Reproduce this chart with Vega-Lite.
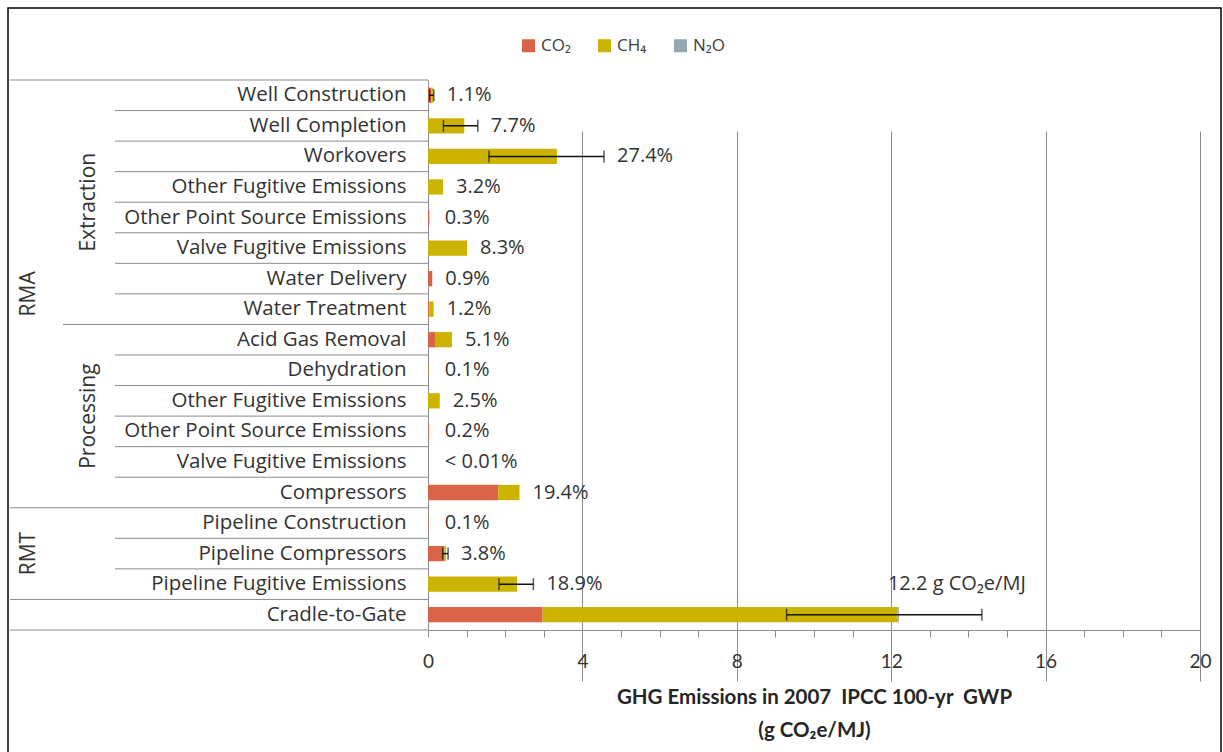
{
  "$schema": "https://vega.github.io/schema/vega-lite/v6.json",
  "width": 1213,
  "height": 745,
  "autosize": {"type": "none"},
  "padding": {"left": 8, "top": 8, "right": 2, "bottom": 0},
  "background": "white",
  "config": {
    "font": "Open Sans",
    "view": {"stroke": "#000000", "strokeWidth": 1.5},
    "text": {"font": "Open Sans", "fontSize": 20, "color": "#333333"}
  },
  "datasets": {
    "emissions": [
      {"key": "RMA|Extraction|Well Construction", "gas": "CO₂", "value": 0.09},
      {"key": "RMA|Extraction|Well Construction", "gas": "CH₄", "value": 0.044},
      {"key": "RMA|Extraction|Well Completion", "gas": "CH₄", "value": 0.94},
      {"key": "RMA|Extraction|Workovers", "gas": "CH₄", "value": 3.34},
      {"key": "RMA|Extraction|Other Fugitive Emissions", "gas": "CH₄", "value": 0.39},
      {"key": "RMA|Extraction|Other Point Source Emissions", "gas": "CO₂", "value": 0.03},
      {"key": "RMA|Extraction|Other Point Source Emissions", "gas": "CH₄", "value": 0.007},
      {"key": "RMA|Extraction|Valve Fugitive Emissions", "gas": "CH₄", "value": 1.01},
      {"key": "RMA|Extraction|Water Delivery", "gas": "CO₂", "value": 0.11},
      {"key": "RMA|Extraction|Water Treatment", "gas": "CO₂", "value": 0.04},
      {"key": "RMA|Extraction|Water Treatment", "gas": "CH₄", "value": 0.106},
      {"key": "RMA|Processing|Acid Gas Removal", "gas": "CO₂", "value": 0.2},
      {"key": "RMA|Processing|Acid Gas Removal", "gas": "CH₄", "value": 0.42},
      {"key": "RMA|Processing|Dehydration", "gas": "CO₂", "value": 0.007},
      {"key": "RMA|Processing|Dehydration", "gas": "CH₄", "value": 0.005},
      {"key": "RMA|Processing|Other Fugitive Emissions", "gas": "CH₄", "value": 0.305},
      {"key": "RMA|Processing|Other Point Source Emissions", "gas": "CO₂", "value": 0.024},
      {"key": "RMA|Processing|Valve Fugitive Emissions", "gas": "CH₄", "value": 0.0008},
      {"key": "RMA|Processing|Compressors", "gas": "CO₂", "value": 1.82},
      {"key": "RMA|Processing|Compressors", "gas": "CH₄", "value": 0.55},
      {"key": "RMT||Pipeline Construction", "gas": "CO₂", "value": 0.012},
      {"key": "RMT||Pipeline Compressors", "gas": "CO₂", "value": 0.42},
      {"key": "RMT||Pipeline Compressors", "gas": "CH₄", "value": 0.044},
      {"key": "RMT||Pipeline Fugitive Emissions", "gas": "CH₄", "value": 2.31},
      {"key": "||Cradle-to-Gate", "gas": "CO₂", "value": 2.97},
      {"key": "||Cradle-to-Gate", "gas": "CH₄", "value": 9.2},
      {"key": "||Cradle-to-Gate", "gas": "N₂O", "value": 0.03}
    ],
    "summary": [
      {"key": "RMA|Extraction|Well Construction", "label": "1.1%", "lo": 0.04, "hi": 0.15},
      {"key": "RMA|Extraction|Well Completion", "label": "7.7%", "lo": 0.4, "hi": 1.29},
      {"key": "RMA|Extraction|Workovers", "label": "27.4%", "lo": 1.58, "hi": 4.56},
      {"key": "RMA|Extraction|Other Fugitive Emissions", "label": "3.2%"},
      {"key": "RMA|Extraction|Other Point Source Emissions", "label": "0.3%"},
      {"key": "RMA|Extraction|Valve Fugitive Emissions", "label": "8.3%"},
      {"key": "RMA|Extraction|Water Delivery", "label": "0.9%"},
      {"key": "RMA|Extraction|Water Treatment", "label": "1.2%"},
      {"key": "RMA|Processing|Acid Gas Removal", "label": "5.1%"},
      {"key": "RMA|Processing|Dehydration", "label": "0.1%"},
      {"key": "RMA|Processing|Other Fugitive Emissions", "label": "2.5%"},
      {"key": "RMA|Processing|Other Point Source Emissions", "label": "0.2%"},
      {"key": "RMA|Processing|Valve Fugitive Emissions", "label": "< 0.01%"},
      {"key": "RMA|Processing|Compressors", "label": "19.4%"},
      {"key": "RMT||Pipeline Construction", "label": "0.1%"},
      {"key": "RMT||Pipeline Compressors", "label": "3.8%", "lo": 0.38, "hi": 0.52},
      {"key": "RMT||Pipeline Fugitive Emissions", "label": "18.9%", "lo": 1.84, "hi": 2.73},
      {"key": "||Cradle-to-Gate", "label": "12.2 g CO₂e/MJ", "lo": 9.29, "hi": 14.35}
    ],
    "groups": [
      {"name": "RMA", "level": "stage", "anchor": "RMA|Extraction|Water Treatment"},
      {"name": "RMT", "level": "stage", "anchor": "RMT||Pipeline Compressors"},
      {"name": "Extraction", "level": "group", "anchor": "RMA|Extraction|Other Point Source Emissions"},
      {"name": "Processing", "level": "group", "anchor": "RMA|Processing|Other Point Source Emissions"}
    ]
  },
  "layer": [
    {
      "data": {"name": "emissions"},
      "transform": [
        {"calculate": "indexof(['CO₂', 'CH₄', 'N₂O'], datum.gas)", "as": "stackOrder"}
      ],
      "mark": {"type": "bar"},
      "encoding": {
        "y": {
          "field": "key",
          "type": "nominal",
          "sort": null,
          "scale": {
            "type": "band",
            "domain": [
              "RMA|Extraction|Well Construction",
              "RMA|Extraction|Well Completion",
              "RMA|Extraction|Workovers",
              "RMA|Extraction|Other Fugitive Emissions",
              "RMA|Extraction|Other Point Source Emissions",
              "RMA|Extraction|Valve Fugitive Emissions",
              "RMA|Extraction|Water Delivery",
              "RMA|Extraction|Water Treatment",
              "RMA|Processing|Acid Gas Removal",
              "RMA|Processing|Dehydration",
              "RMA|Processing|Other Fugitive Emissions",
              "RMA|Processing|Other Point Source Emissions",
              "RMA|Processing|Valve Fugitive Emissions",
              "RMA|Processing|Compressors",
              "RMT||Pipeline Construction",
              "RMT||Pipeline Compressors",
              "RMT||Pipeline Fugitive Emissions",
              "||Cradle-to-Gate"
            ],
            "range": [72, 622],
            "paddingInner": 0.5,
            "paddingOuter": 0.25
          },
          "axis": {
            "title": null,
            "orient": "left",
            "offset": -420,
            "labelExpr": "split(datum.value, '|')[2]",
            "labelPadding": 22,
            "labelLimit": 0,
            "labelFont": "Open Sans",
            "labelFontSize": 20.5,
            "labelColor": "#333333",
            "labelAlign": "right",
            "ticks": false,
            "domainColor": "#8c8c8c",
            "domainWidth": 1,
            "grid": false
          }
        },
        "x": {
          "field": "value",
          "type": "quantitative",
          "stack": "zero",
          "scale": {"domain": [0, 20], "range": [420, 1192], "nice": false, "zero": true},
          "axis": {
            "title": ["GHG Emissions in 2007\u00a0 IPCC 100-yr\u00a0 GWP", "(g CO₂e/MJ)"],
            "offset": -123,
            "values": [0, 1, 2, 3, 4, 5, 6, 7, 8, 9, 10, 11, 12, 13, 14, 15, 16, 17, 18, 19, 20],
            "format": "d",
            "labelExpr": "datum.value % 4 === 0 ? datum.label : ''",
            "labelFlush": false,
            "labelOverlap": false,
            "labelFont": "Lato",
            "labelFontSize": 19,
            "labelColor": "#333333",
            "labelPadding": 15,
            "tickSize": 7,
            "tickColor": "#8c8c8c",
            "domainColor": "#8c8c8c",
            "grid": true,
            "gridColor": "#8c8c8c",
            "gridWidth": 1,
            "gridOpacity": {"condition": {"test": "datum.value % 4 === 0 && datum.value > 0", "value": 1}, "value": 0},
            "titleFont": "Lato",
            "titleFontWeight": "bold",
            "titleFontSize": 20.5,
            "titleColor": "#262626",
            "titlePadding": 16,
            "titleLineHeight": 33
          }
        },
        "color": {
          "field": "gas",
          "type": "nominal",
          "scale": {"domain": ["CO₂", "CH₄", "N₂O"], "range": ["#da6448", "#cbb300", "#93aab4"]},
          "legend": {
            "title": null,
            "orient": "none",
            "direction": "horizontal",
            "legendX": 512,
            "legendY": 29,
            "symbolType": "square",
            "symbolSize": 170,
            "symbolStrokeWidth": 0,
            "labelFont": "Open Sans",
            "labelFontSize": 17,
            "labelColor": "#404040",
            "labelOffset": 4,
            "columnPadding": 25
          }
        },
        "order": {"field": "stackOrder"}
      }
    },
    {
      "data": {"name": "summary"},
      "transform": [
        {"calculate": "split(datum.key, '|')[0]", "as": "stage"},
        {"calculate": "split(datum.key, '|')[1]", "as": "group"},
        {"window": [{"op": "row_number", "as": "inStage"}], "groupby": ["stage"]},
        {"window": [{"op": "row_number", "as": "inGroup"}], "groupby": ["stage", "group"]}
      ],
      "layer": [
        {
          "transform": [{"filter": "datum.inStage === 1"}],
          "mark": {"type": "rule", "color": "#8c8c8c", "strokeWidth": 1},
          "encoding": {
            "y": {"field": "key", "type": "nominal", "bandPosition": -0.5},
            "x": {"value": 2},
            "x2": {"value": 420}
          }
        },
        {
          "transform": [{"filter": "datum.inStage > 1 && datum.group !== '' && datum.inGroup === 1"}],
          "mark": {"type": "rule", "color": "#8c8c8c", "strokeWidth": 1},
          "encoding": {
            "y": {"field": "key", "type": "nominal", "bandPosition": -0.5},
            "x": {"value": 55},
            "x2": {"value": 420}
          }
        },
        {
          "transform": [{"filter": "datum.inStage > 1 && !(datum.group !== '' && datum.inGroup === 1)"}],
          "mark": {"type": "rule", "color": "#8c8c8c", "strokeWidth": 1},
          "encoding": {
            "y": {"field": "key", "type": "nominal", "bandPosition": -0.5},
            "x": {"value": 107},
            "x2": {"value": 420}
          }
        },
        {
          "transform": [{"filter": "datum.key === '||Cradle-to-Gate'"}],
          "mark": {"type": "rule", "color": "#8c8c8c", "strokeWidth": 1},
          "encoding": {
            "y": {"field": "key", "type": "nominal", "bandPosition": 1.5},
            "x": {"value": 2},
            "x2": {"value": 420}
          }
        }
      ]
    },
    {
      "data": {"name": "summary"},
      "transform": [{"filter": "isValid(datum.hi)"}],
      "mark": {"type": "rule", "color": "#111111", "strokeWidth": 1.5},
      "encoding": {
        "y": {"field": "key", "type": "nominal"},
        "x": {"field": "lo", "type": "quantitative"},
        "x2": {"field": "hi"}
      }
    },
    {
      "data": {"name": "summary"},
      "transform": [{"filter": "isValid(datum.lo)"}],
      "mark": {"type": "tick", "color": "#111111", "thickness": 1.5, "size": 12},
      "encoding": {
        "y": {"field": "key", "type": "nominal"},
        "x": {"field": "lo", "type": "quantitative"}
      }
    },
    {
      "data": {"name": "summary"},
      "transform": [{"filter": "isValid(datum.hi)"}],
      "mark": {"type": "tick", "color": "#111111", "thickness": 1.5, "size": 12},
      "encoding": {
        "y": {"field": "key", "type": "nominal"},
        "x": {"field": "hi", "type": "quantitative"}
      }
    },
    {
      "data": {"name": "emissions"},
      "transform": [
        {"aggregate": [{"op": "sum", "field": "value", "as": "total"}], "groupby": ["key"]},
        {"lookup": "key", "from": {"data": {"name": "summary"}, "key": "key", "fields": ["label", "hi"]}},
        {"filter": "datum.key !== '||Cradle-to-Gate'"},
        {"calculate": "max(datum.total, isValid(datum.hi) ? datum.hi : 0, 0.1)", "as": "labelAt"}
      ],
      "mark": {"type": "text", "align": "left", "baseline": "middle", "dx": 13},
      "encoding": {
        "y": {"field": "key", "type": "nominal"},
        "x": {"field": "labelAt", "type": "quantitative"},
        "text": {"field": "label"}
      }
    },
    {
      "data": {"name": "emissions"},
      "transform": [
        {"aggregate": [{"op": "sum", "field": "value", "as": "total"}], "groupby": ["key"]},
        {"lookup": "key", "from": {"data": {"name": "summary"}, "key": "key", "fields": ["label"]}},
        {"filter": "datum.key === '||Cradle-to-Gate'"}
      ],
      "mark": {"type": "text", "align": "left", "baseline": "middle", "dx": -11, "dy": -31},
      "encoding": {
        "y": {"field": "key", "type": "nominal"},
        "x": {"field": "total", "type": "quantitative"},
        "text": {"field": "label"}
      }
    },
    {
      "data": {"name": "groups"},
      "transform": [{"filter": "datum.name === 'RMA'"}],
      "mark": {"type": "text", "angle": 270, "align": "center", "baseline": "middle", "fontSize": 21},
      "encoding": {
        "y": {"field": "anchor", "type": "nominal", "bandPosition": -0.5},
        "x": {"value": 21},
        "text": {"field": "name"}
      }
    },
    {
      "data": {"name": "groups"},
      "transform": [{"filter": "datum.name === 'RMT'"}],
      "mark": {"type": "text", "angle": 270, "align": "center", "baseline": "middle", "fontSize": 21},
      "encoding": {
        "y": {"field": "anchor", "type": "nominal", "bandPosition": 0.5},
        "x": {"value": 21},
        "text": {"field": "name"}
      }
    },
    {
      "data": {"name": "groups"},
      "transform": [{"filter": "datum.level === 'group'"}],
      "mark": {"type": "text", "angle": 270, "align": "center", "baseline": "middle", "fontSize": 21},
      "encoding": {
        "y": {"field": "anchor", "type": "nominal", "bandPosition": -0.5},
        "x": {"value": 81},
        "text": {"field": "name"}
      }
    }
  ]
}
